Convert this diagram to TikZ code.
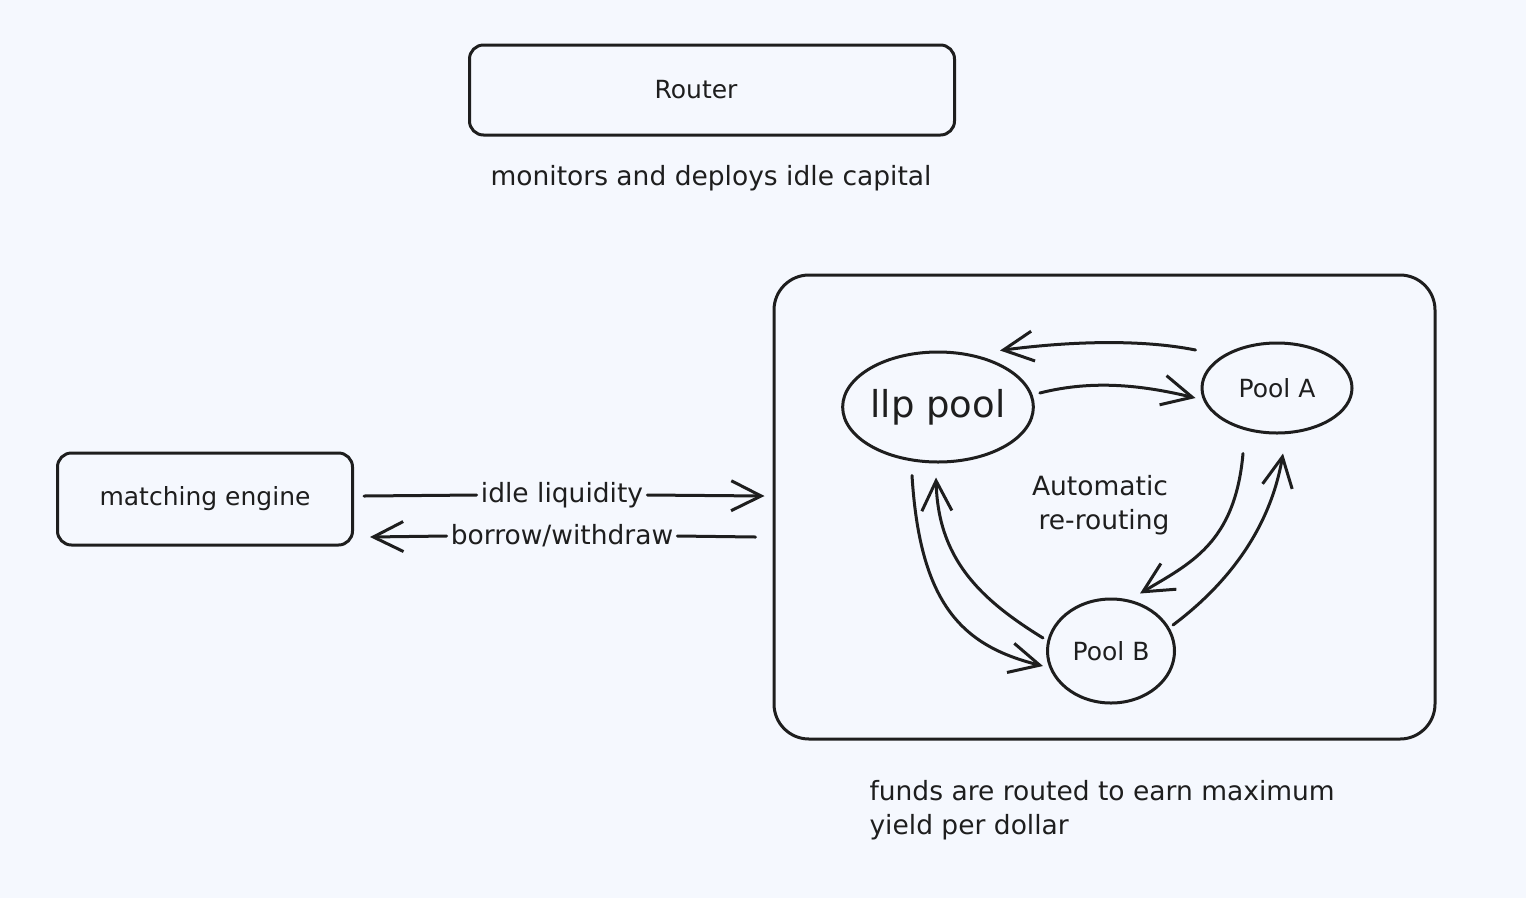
\documentclass[tikz,border=0pt]{standalone}
\usepackage{fontspec}
\setmainfont{DejaVu Sans}
\usetikzlibrary{arrows.meta,calc,shapes.geometric}
\definecolor{bg}{HTML}{F5F8FE}
\definecolor{ink}{HTML}{1E1E1E}
\tikzset{
  box/.style={draw=ink, line width=3pt, rounded corners=14pt, text=ink, font=\fontsize{25}{30}\selectfont},
  pool/.style={draw=ink, line width=3pt, ellipse, text=ink, inner sep=0pt},
  lbl/.style={text=ink, font=\fontsize{26.5}{34}\selectfont},
  conn/.style={draw=ink, line width=3pt, line cap=round, -{Straight Barb[length=30pt,width=30pt,line width=3pt]}},
  plain/.style={draw=ink, line width=3pt, line cap=round},
}
\begin{document}
\begin{tikzpicture}[x=1pt,y=-1pt]
\fill[bg] (0,0) rectangle (1526,898);
\useasboundingbox (0,0) rectangle (1526,898);

% Router
\node[box, minimum width=485pt, minimum height=90pt] (router) at (712,90) {Router\hspace*{32pt}};
\node[lbl] (routerlbl) at (711,178) {monitors and deploys idle capital};

% matching engine
\node[box, minimum width=295pt, minimum height=92pt] (me) at (205,499) {matching engine};

% container
\node[draw=ink, line width=3pt, rounded corners=35pt, minimum width=661pt, minimum height=464pt] (cont) at (1104.5,507) {};

% pools
\node[pool, minimum width=190pt, minimum height=110pt, font=\fontsize{37}{44}\selectfont] (llp) at (938,407) {llp pool};
\node[pool, minimum width=150pt, minimum height=90pt, font=\fontsize{25}{30}\selectfont] (pa) at (1277,388) {Pool A};
\node[pool, minimum width=127pt, minimum height=104pt, font=\fontsize{25}{30}\selectfont] (pb) at (1111,651) {Pool B};

\node[lbl, align=center] (auto) at (1100,505) {Automatic\\\hspace*{8pt}re-routing};

\node[lbl, align=left, anchor=west] (funds) at (866,810) {funds are routed to earn maximum\\yield per dollar};

% horizontal connectors
\node[lbl, fill=bg, inner sep=4pt] (il) at (562,495) {idle liquidity};
\node[lbl, fill=bg, inner sep=4pt] (bw) at (562,536) {borrow/withdraw};
\draw[plain] ($(me.east)+(10,-3)$) -- (il.west);
\draw[conn] (il.east) -- ($(cont.west)+(-8,-11)$);
\draw[plain] ($(cont.west)+(-17,30)$) -- (bw.east);
\draw[conn] (bw.west) -- ($(me.east)+(16,38)$);

% cycle connectors
\draw[conn] ($(llp.east)+(5,-14)$) .. controls +(55,-14) and +(-50,-12) .. ($(pa.west)+(-5,10)$);
\draw[conn] ($(pa.west)+(-5,-38)$) .. controls +(-60,-12) and +(60,-8) .. ($(llp.north)+(62,0)$);
\draw[conn] ($(llp.south)+(-26,12)$) .. controls +(8,130) and +(-80,-20) .. ($(pb.west)+(-3,15)$);
\draw[conn] ($(pb.west)+(-3,-13)$) .. controls +(-65,-40) and +(2,80) .. ($(llp.south)+(-2,14)$);
\draw[conn] ($(pa.south)+(-34,19)$) .. controls +(-8,90) and +(50,-30) .. ($(pb.north)+(29,-4)$);
\draw[conn] ($(pb.east)+(-3,-26)$) .. controls +(60,-45) and +(-12,70) .. ($(pa.south)+(6,19)$);
\end{tikzpicture}
\end{document}
